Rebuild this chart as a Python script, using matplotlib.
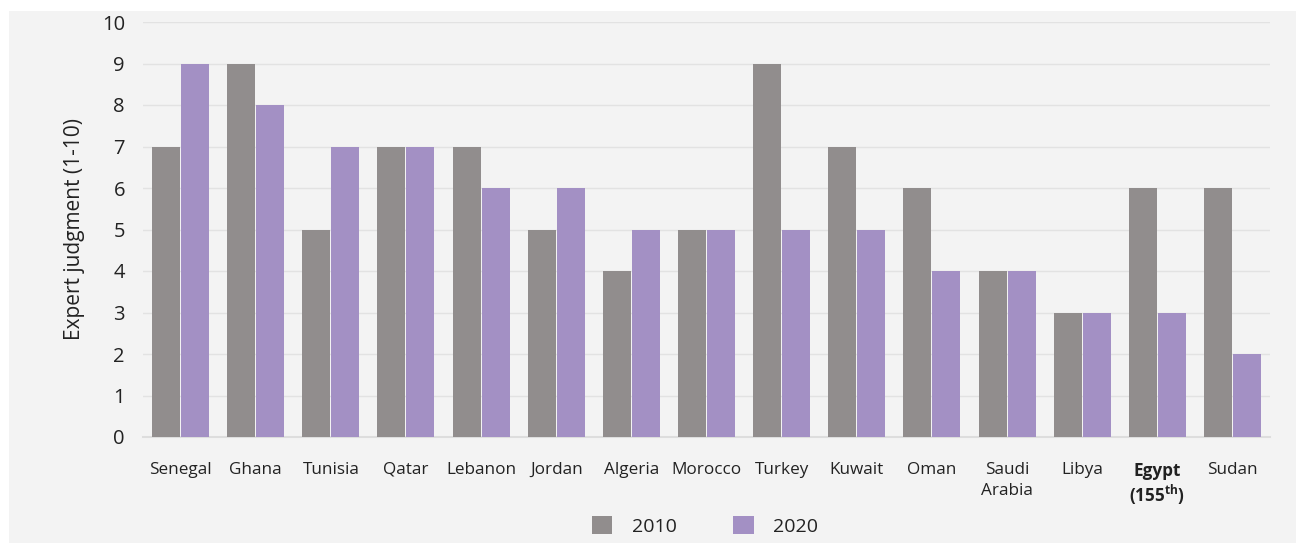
import matplotlib.pyplot as plt
import numpy as np
from matplotlib.patches import Rectangle

countries = ["Senegal", "Ghana", "Tunisia", "Qatar", "Lebanon", "Jordan", "Algeria",
             "Morocco", "Turkey", "Kuwait", "Oman", "Saudi\nArabia", "Libya",
             "Egypt\n(155$^{\\mathbf{th}}$)", "Sudan"]
score_2010 = [7, 9, 5, 7, 7, 5, 4, 5, 9, 7, 6, 4, 3, 6, 6]
score_2020 = [9, 8, 7, 7, 6, 6, 5, 5, 5, 5, 4, 4, 3, 3, 2]
yticks = list(range(0, 11))

plt.rcParams.update({'font.family': ['Open Sans', 'DejaVu Sans']})
plt.rcParams.update({'mathtext.fontset': 'custom',
                     'mathtext.rm': 'Open Sans',
                     'mathtext.bf': 'Open Sans:bold'})

c2010 = '#918d8d'
c2020 = '#a390c4'
bg = '#f3f3f3'
txt = '#222222'

fig = plt.figure(figsize=(12.96, 5.43), dpi=100)
fig.patch.set_facecolor('white')
# grey panel behind everything
fig.patches.append(Rectangle((9 / 1296, 0), 1 - 9 / 1296, 1 - 11 / 543,
                             transform=fig.transFigure, facecolor=bg,
                             edgecolor='none', zorder=-10))

ax = fig.add_axes([143 / 1296, 1 - 437 / 543, 1127 / 1296, 415 / 543])
ax.set_facecolor(bg)

x = np.arange(len(countries))
w = 0.373
off = 0.193
ax.bar(x - off, score_2010, width=w, color=c2010, label='2010', zorder=3)
ax.bar(x + off, score_2020, width=w, color=c2020, label='2020', zorder=3)

ax.set_xlim(-0.5, len(countries) - 0.5)
ax.set_ylim(0, 10)
ax.set_yticks(yticks)
ax.set_yticklabels([str(t) for t in yticks], fontsize=14.5, color=txt)
ax.set_xticks(x)
ax.set_xticklabels(countries, fontsize=12.3, color=txt, linespacing=1.4)
for lbl in ax.get_xticklabels():
    if lbl.get_text().startswith('Egypt'):
        lbl.set_fontweight('bold')
        lbl.set_linespacing(1.15)
ax.tick_params(axis='both', length=0)
ax.tick_params(axis='y', pad=13)
ax.tick_params(axis='x', pad=18)

ax.grid(axis='y', color='#e2e2e2', linewidth=1, zorder=0)
for s in ['top', 'right', 'left']:
    ax.spines[s].set_visible(False)
ax.spines['bottom'].set_color('#dddddd')
ax.spines['bottom'].set_linewidth(1.5)

ax.set_ylabel("Expert judgment (1-10)", fontsize=15, color=txt, labelpad=12)

fig.legend(loc='center', bbox_to_anchor=(0.544, 1 - 526 / 543), ncol=2,
           frameon=False, fontsize=14, handlelength=1.05, handleheight=1.05,
           handletextpad=1.0, columnspacing=2.9, labelcolor=txt)

fig.savefig('out.png', dpi=100, facecolor=fig.get_facecolor())
